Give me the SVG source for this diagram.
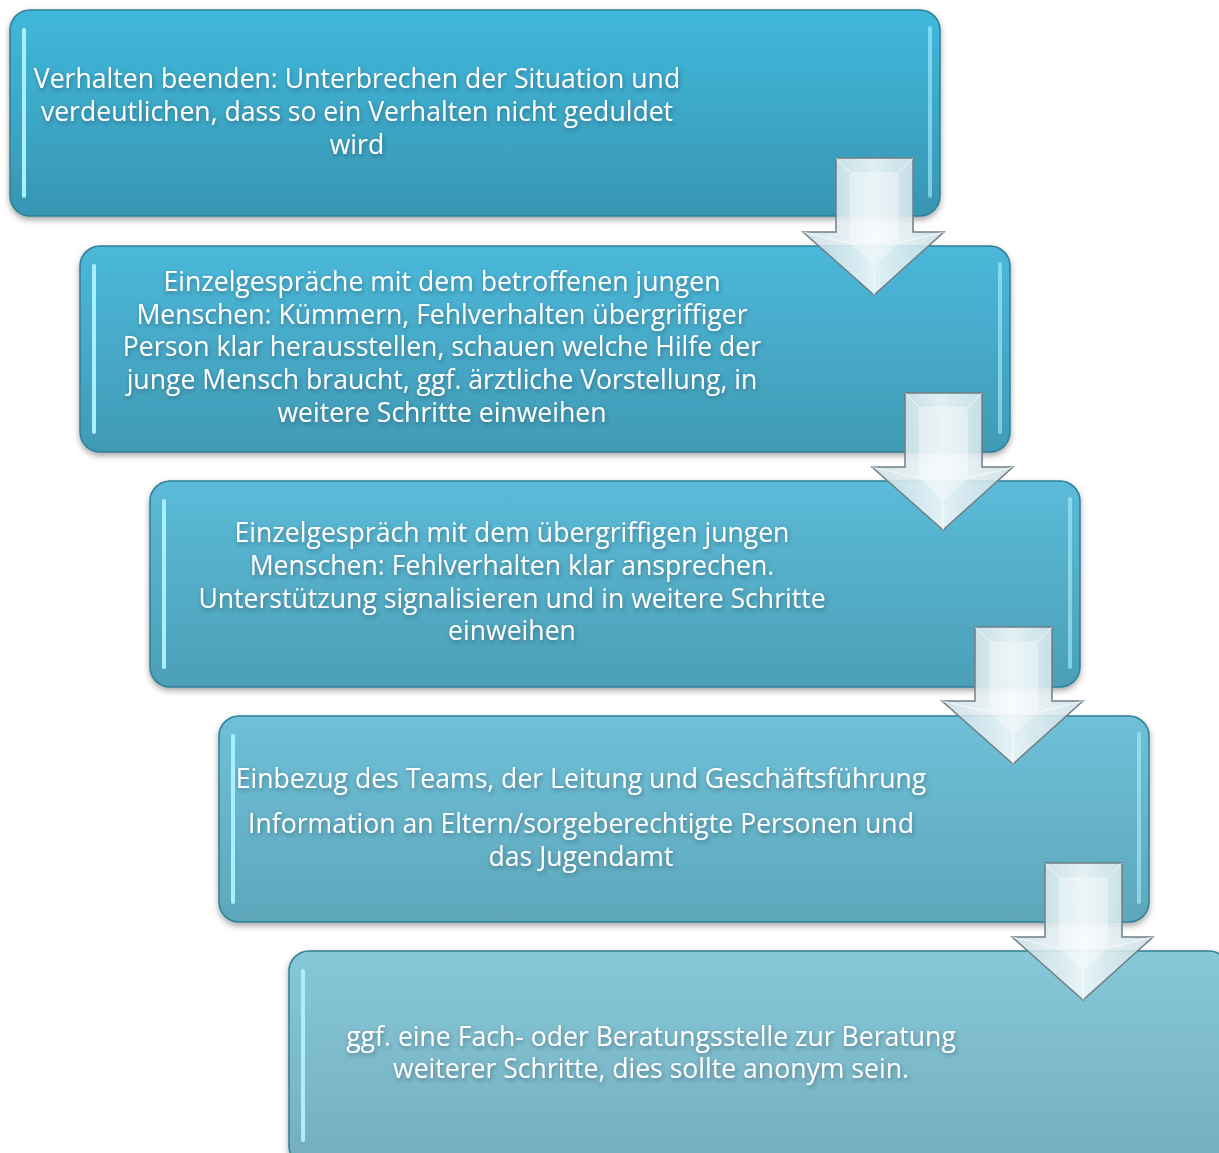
<svg xmlns="http://www.w3.org/2000/svg" width="1219" height="1153" viewBox="0 0 1219 1153">
<defs>
<linearGradient id="g1" x1="0" y1="0" x2="0" y2="1"><stop offset="0" stop-color="#40b8dc"/><stop offset="1" stop-color="#3896b2"/></linearGradient>
<linearGradient id="g2" x1="0" y1="0" x2="0" y2="1"><stop offset="0" stop-color="#4bb8da"/><stop offset="1" stop-color="#419ab5"/></linearGradient>
<linearGradient id="g3" x1="0" y1="0" x2="0" y2="1"><stop offset="0" stop-color="#5bbbd8"/><stop offset="1" stop-color="#4c9fb7"/></linearGradient>
<linearGradient id="g4" x1="0" y1="0" x2="0" y2="1"><stop offset="0" stop-color="#6ec0d8"/><stop offset="1" stop-color="#5ea7bb"/></linearGradient>
<linearGradient id="g5" x1="0" y1="0" x2="0" y2="1"><stop offset="0" stop-color="#86c8d8"/><stop offset="1" stop-color="#74aebf"/></linearGradient>
<linearGradient id="ag" x1="0" y1="0" x2="1" y2="0"><stop offset="0" stop-color="#c8dde4" stop-opacity="0.85"/><stop offset="0.5" stop-color="#f2f8fa" stop-opacity="0.9"/><stop offset="1" stop-color="#c8dde4" stop-opacity="0.85"/></linearGradient>
<filter id="sh" x="-5%" y="-5%" width="110%" height="115%"><feDropShadow dx="0" dy="3" stdDeviation="3" flood-color="#000" flood-opacity="0.35"/></filter>
<filter id="ts" x="-5%" y="-20%" width="110%" height="150%"><feDropShadow dx="1" dy="2" stdDeviation="2" flood-color="#203040" flood-opacity="0.45"/></filter>
<g id="arrow">
<polygon points="31,0 108,0 108,74 139,74 69,137 -2,74 31,74" fill="url(#ag)" stroke="#6f7f85" stroke-width="1.5"/>
<polygon points="45,14 94,14 94,85 69,108 45,85" fill="#ffffff" fill-opacity="0.35"/>
<path d="M31,0 L45,14 M108,0 L94,14 M-2,74 L45,85 M139,74 L94,85 M69,137 L69,108" stroke="#ffffff" stroke-opacity="0.7" stroke-width="1"/>
</g>
</defs>
<style>
.box{stroke:#2f7f98;stroke-width:1.5}
.hl{fill:none;stroke:#a8f0ff;stroke-width:4;stroke-linecap:round}
.t{font-family:"Open Sans","Noto Sans",sans-serif;font-size:26.6px;fill:#ffffff;text-anchor:middle}
</style>
<rect width="1219" height="1153" fill="#ffffff"/>
<g id="node1">
<rect class="box" x="10" y="10" width="930" height="206" rx="20" fill="url(#g1)" filter="url(#sh)"/>
<line class="hl" x1="24" y1="30" x2="24" y2="196"/>
<line class="hl" x1="930" y1="28" x2="930" y2="196" stroke-opacity="0.6"/>
<text class="t" filter="url(#ts)"><tspan x="357" y="88">Verhalten beenden: Unterbrechen der Situation und</tspan><tspan x="357" y="121">verdeutlichen, dass so ein Verhalten nicht geduldet</tspan><tspan x="357" y="154">wird</tspan></text>
</g>
<g id="node2">
<rect class="box" x="80" y="246" width="930" height="206" rx="20" fill="url(#g2)" filter="url(#sh)"/>
<line class="hl" x1="94" y1="266" x2="94" y2="432"/>
<line class="hl" x1="1000" y1="264" x2="1000" y2="432" stroke-opacity="0.6"/>
<text class="t" filter="url(#ts)"><tspan x="442" y="291">Einzelgespräche mit dem betroffenen jungen</tspan><tspan x="442" y="324">Menschen: Kümmern, Fehlverhalten übergriffiger</tspan><tspan x="442" y="356">Person klar herausstellen, schauen welche Hilfe der</tspan><tspan x="442" y="389">junge Mensch braucht, ggf. ärztliche Vorstellung, in</tspan><tspan x="442" y="422">weitere Schritte einweihen</tspan></text>
</g>
<g id="node3">
<rect class="box" x="150" y="481" width="930" height="206" rx="20" fill="url(#g3)" filter="url(#sh)"/>
<line class="hl" x1="164" y1="501" x2="164" y2="667"/>
<line class="hl" x1="1070" y1="499" x2="1070" y2="667" stroke-opacity="0.6"/>
<text class="t" filter="url(#ts)"><tspan x="512" y="542">Einzelgespräch mit dem übergriffigen jungen</tspan><tspan x="512" y="575">Menschen: Fehlverhalten klar ansprechen.</tspan><tspan x="512" y="608">Unterstützung signalisieren und in weitere Schritte</tspan><tspan x="512" y="640">einweihen</tspan></text>
</g>
<g id="node4">
<rect class="box" x="219" y="716" width="930" height="206" rx="20" fill="url(#g4)" filter="url(#sh)"/>
<line class="hl" x1="233" y1="736" x2="233" y2="902"/>
<line class="hl" x1="1139" y1="734" x2="1139" y2="902" stroke-opacity="0.6"/>
<text class="t" filter="url(#ts)"><tspan x="581" y="788">Einbezug des Teams, der Leitung und Geschäftsführung</tspan><tspan x="581" y="833">Information an Eltern/sorgeberechtigte Personen und</tspan><tspan x="581" y="866">das Jugendamt</tspan></text>
</g>
<g id="node5">
<rect class="box" x="289" y="951" width="940" height="215" rx="20" fill="url(#g5)" filter="url(#sh)"/>
<line class="hl" x1="303" y1="971" x2="303" y2="1140"/>
<text class="t" filter="url(#ts)"><tspan x="651" y="1046">ggf. eine Fach- oder Beratungsstelle zur Beratung</tspan><tspan x="651" y="1078">weiterer Schritte, dies sollte anonym sein.</tspan></text>
</g>
<g id="connectors">
<use href="#arrow" x="805" y="158"/>
<use href="#arrow" x="874" y="393"/>
<use href="#arrow" x="944" y="627"/>
<use href="#arrow" x="1014" y="863"/>
</g>
</svg>
